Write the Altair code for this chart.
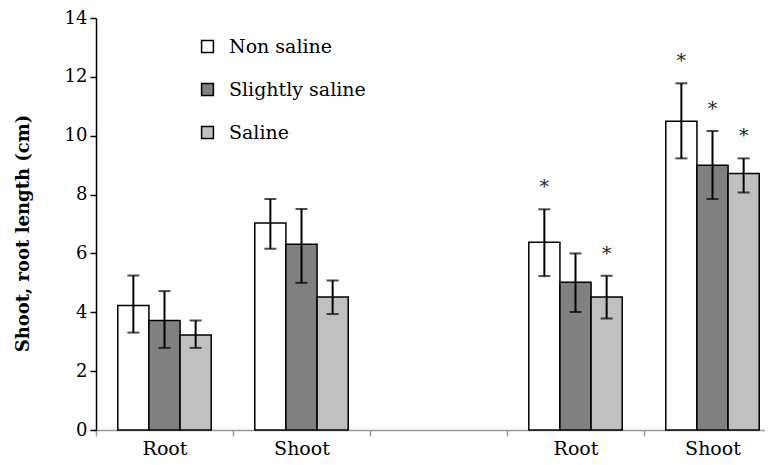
import altair as alt
import pandas as pd

# ---- data ----
positions = ["g1_root", "g1_shoot", "gap", "g2_root", "g2_shoot"]
position_labels = ["Root", "Shoot", "", "Root", "Shoot"]
treatments = ["Non saline", "Slightly saline", "Saline"]
bar_colors = ["#ffffff", "#808080", "#c0c0c0"]

bar_positions = ["g1_root"] * 3 + ["g1_shoot"] * 3 + ["g2_root"] * 3 + ["g2_shoot"] * 3
bar_treatments = treatments * 4
means = [4.23, 3.72, 3.23, 7.03, 6.31, 4.52, 6.38, 5.02, 4.52, 10.49, 9.00, 8.72]
err_low = [3.31, 2.79, 2.79, 6.16, 5.00, 3.94, 5.23, 4.01, 3.79, 9.23, 7.85, 8.07]
err_high = [5.25, 4.72, 3.72, 7.85, 7.51, 5.08, 7.50, 6.00, 5.24, 11.78, 10.16, 9.23]
signif = ["", "", "", "", "", "", "*", "", "*", "*", "*", "*"]

df = pd.DataFrame({
    "pos": bar_positions,
    "treatment": bar_treatments,
    "mean": means,
    "lo": err_low,
    "hi": err_high,
    "sig": signif,
})

FONT = "DejaVu Serif"

label_expr = "[" + ",".join(f"'{l}'" for l in position_labels) + "][indexof([" + \
    ",".join(f"'{p}'" for p in positions) + "], datum.value)]"

x_axis = alt.Axis(
    title=None,
    labelExpr=label_expr,
    labelAngle=0,
    labelFont=FONT,
    labelFontSize=19,
    labelColor="black",
    labelPadding=3,
    domainColor="#999999",
    domainWidth=1.5,
    tickColor="#999999",
    tickWidth=1.5,
    tickSize=6,
    tickBand="extent",
    grid=False,
)
x_scale = alt.Scale(domain=positions, range=[0, 685], paddingInner=0, paddingOuter=0)
x_enc = alt.X("pos:N", scale=x_scale, axis=x_axis)
xoff = alt.XOffset(
    "treatment:N",
    scale=alt.Scale(domain=treatments, paddingInner=0, paddingOuter=0.7),
)
y_scale = alt.Scale(domain=[0, 14], nice=False)
y_axis = alt.Axis(
    title="Shoot, root length (cm)",
    titleFont=FONT,
    titleFontSize=18,
    titleFontWeight="bold",
    titleColor="black",
    titleX=-73,
    titleY=215,
    titleBaseline="middle",
    values=list(range(0, 15, 2)),
    labelFont=FONT,
    labelFontSize=18,
    labelColor="black",
    labelPadding=3,
    domainColor="black",
    domainWidth=1.5,
    tickColor="black",
    tickWidth=1.5,
    tickSize=6,
    grid=False,
)

base = alt.Chart(df)

bars = base.mark_bar(stroke="black", strokeWidth=1.5).encode(
    x=x_enc,
    xOffset=xoff,
    y=alt.Y("mean:Q", scale=y_scale, axis=y_axis),
    fill=alt.Fill(
        "treatment:N",
        scale=alt.Scale(domain=treatments, range=bar_colors),
        legend=alt.Legend(
            title=None,
            orient="none",
            legendX=102,
            legendY=19,
            symbolType="square",
            symbolSize=140,
            symbolStrokeColor="black",
            symbolStrokeWidth=1.5,
            labelFont=FONT,
            labelFontSize=19,
            labelColor="black",
            labelOffset=12,
            rowPadding=23,
        ),
    ),
)

rules = base.mark_rule(color="black", strokeWidth=2).encode(
    x=x_enc, xOffset=xoff, y=alt.Y("lo:Q", scale=y_scale, axis=y_axis), y2="hi:Q"
)
cap_lo = base.mark_tick(color="black", thickness=2, size=12).encode(
    x=x_enc, xOffset=xoff, y=alt.Y("lo:Q", scale=y_scale, axis=y_axis)
)
cap_hi = base.mark_tick(color="black", thickness=2, size=12).encode(
    x=x_enc, xOffset=xoff, y=alt.Y("hi:Q", scale=y_scale, axis=y_axis)
)
stars = base.mark_text(
    font=FONT, fontSize=19, color="#222222", baseline="alphabetic", dy=-16
).encode(
    x=x_enc, xOffset=xoff, y=alt.Y("hi:Q", scale=y_scale, axis=y_axis), text="sig:N"
)

chart = (
    alt.layer(bars, rules, cap_lo, cap_hi, stars)
    .properties(
        width=669,
        height=412,
        autosize=alt.AutoSizeParams(type="none"),
        padding={"left": 88, "top": 10, "right": 0, "bottom": 34},
    )
    .configure(background="white", font=FONT)
    .configure_view(stroke=None)
    .configure_axis(grid=False, labelFont=FONT, titleFont=FONT)
    .configure_legend(labelFont=FONT)
)

chart.save("out.html", embed_options={"renderer": "svg", "actions": False})
